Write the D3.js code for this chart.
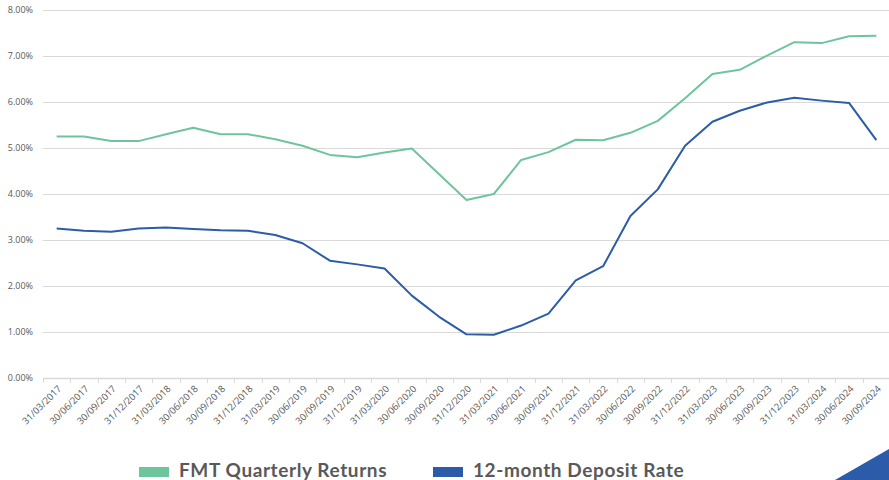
<!DOCTYPE html>
<html>
<head>
<meta charset="utf-8">
<script src="https://cdn.jsdelivr.net/npm/d3@7"></script>
<style>
  html, body { margin: 0; padding: 0; background: #fff; }
  svg { display: block; }
</style>
</head>
<body>
<div id="chart"></div>
<script>
// quarter-end dates on the x axis
const quarters = [
  "31/03/2017", "30/06/2017", "30/09/2017", "31/12/2017",
  "31/03/2018", "30/06/2018", "30/09/2018", "31/12/2018",
  "31/03/2019", "30/06/2019", "30/09/2019", "31/12/2019",
  "31/03/2020", "30/06/2020", "30/09/2020", "31/12/2020",
  "31/03/2021", "30/06/2021", "30/09/2021", "31/12/2021",
  "31/03/2022", "30/06/2022", "30/09/2022", "31/12/2022",
  "31/03/2023", "30/06/2023", "30/09/2023", "31/12/2023",
  "31/03/2024", "30/06/2024", "30/09/2024"
]

// percent values
const fmtReturns = [
  5.25, 5.25, 5.15, 5.15, 5.30, 5.44, 5.30, 5.30,
  5.19, 5.05, 4.85, 4.80, 4.90, 4.99, 4.43, 3.87,
  4.00, 4.74, 4.91, 5.18, 5.17, 5.33, 5.59, 6.08,
  6.61, 6.70, 7.01, 7.30, 7.28, 7.43, 7.44
]
const depositRate = [
  3.25, 3.20, 3.18, 3.25, 3.27, 3.24, 3.21, 3.20,
  3.11, 2.93, 2.55, 2.47, 2.38, 1.79, 1.33, 0.95,
  0.94, 1.14, 1.40, 2.12, 2.43, 3.52, 4.10, 5.05,
  5.57, 5.81, 5.99, 6.09, 6.03, 5.98, 5.17
]

const yTicks = [0, 1, 2, 3, 4, 5, 6, 7, 8]

const seriesNames = ["FMT Quarterly Returns", "12-month Deposit Rate"]
const seriesColors = ["#6fc59b", "#2b5ba9"]

const width = 889
const height = 480
const margin = { top: 10, right: 0, bottom: 102, left: 43 }
const labelColor = "#595959"
const gridColor = "#d9d9d9"

const svg = d3.select("#chart").append("svg")
  .attr("width", width)
  .attr("height", height)

const x = d3.scaleBand()
  .domain(quarters)
  .range([margin.left, width - margin.right + 1])

const y = d3.scaleLinear()
  .domain([0, 8])
  .range([height - margin.bottom, margin.top])

// gridlines
svg.append("g")
  .selectAll("line")
  .data(yTicks)
  .join("line")
  .attr("x1", margin.left)
  .attr("x2", width)
  .attr("y1", d => Math.round(y(d)) + 0.5)
  .attr("y2", d => Math.round(y(d)) + 0.5)
  .attr("stroke", gridColor)
  .attr("stroke-width", d => d === 0 ? 1.5 : 1)

// y labels
svg.append("g")
  .selectAll("text")
  .data(yTicks)
  .join("text")
  .attr("x", 33)
  .attr("y", d => y(d))
  .attr("dy", "0.35em")
  .attr("text-anchor", "end")
  .attr("fill", labelColor)
  .style("font", "9px 'Open Sans', sans-serif")
  .text(d => d3.format(".2f")(d) + "%")

// x tick marks at category boundaries
const bounds = quarters.map(q => x(q))
svg.append("g")
  .selectAll("line")
  .data(bounds)
  .join("line")
  .attr("x1", d => Math.round(d) + 0.5)
  .attr("x2", d => Math.round(d) + 0.5)
  .attr("y1", y(0))
  .attr("y2", y(0) + 5)
  .attr("stroke", gridColor)

// x labels, rotated
svg.append("g")
  .selectAll("text")
  .data(quarters)
  .join("text")
  .attr("transform", d => `translate(${x(d) + x.bandwidth() / 2 + 3},${y(0) + 9}) rotate(-45)`)
  .attr("text-anchor", "end")
  .attr("dy", "0.35em")
  .attr("fill", labelColor)
  .style("font", "9.5px 'Open Sans', sans-serif")
  .text(d => d)

// lines
const line = d3.line()
  .x((d, i) => x(quarters[i]) + x.bandwidth() / 2)
  .y(d => y(d))

;[fmtReturns, depositRate].forEach((s, k) => {
  svg.append("path")
    .datum(s)
    .attr("fill", "none")
    .attr("stroke", seriesColors[k])
    .attr("stroke-width", 2)
    .attr("stroke-linejoin", "round")
    .attr("d", line)
})

// legend
const legendX = [139, 433]
const legend = svg.append("g")
  .selectAll("g")
  .data(seriesNames)
  .join("g")
  .attr("transform", (d, i) => `translate(${legendX[i]},467)`)

legend.append("rect")
  .attr("width", 30)
  .attr("height", 10)
  .attr("fill", (d, i) => seriesColors[i])

legend.append("text")
  .attr("x", 40)
  .attr("y", 10)
  .attr("fill", labelColor)
  .style("font", "bold 19px Lato, sans-serif")
  .style("letter-spacing", "0.6px")
  .text(d => d)

// corner triangle
svg.append("path")
  .attr("d", `M835,${height} L${width},449 L${width},${height} Z`)
  .attr("fill", "#2b5ba9")
</script>
</body>
</html>
